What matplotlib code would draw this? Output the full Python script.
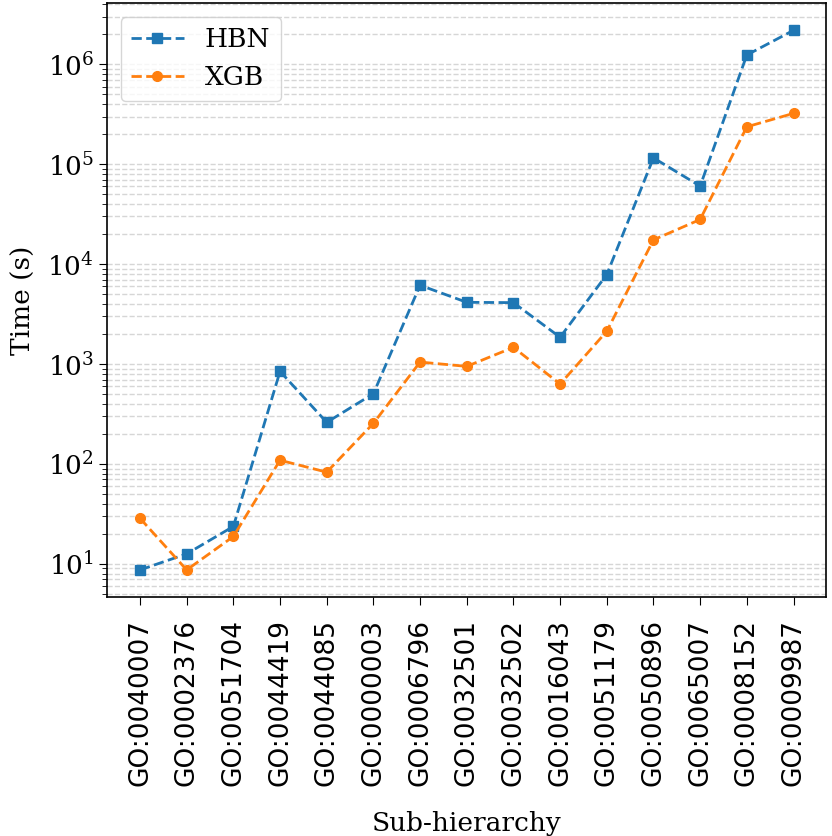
import matplotlib
matplotlib.use('Agg')
import matplotlib.pyplot as plt

# sub-hierarchies (x axis)
sub_hierarchies = ['GO:0040007', 'GO:0002376', 'GO:0051704', 'GO:0044419',
                   'GO:0044085', 'GO:0000003', 'GO:0006796', 'GO:0032501',
                   'GO:0032502', 'GO:0016043', 'GO:0051179', 'GO:0050896',
                   'GO:0065007', 'GO:0008152', 'GO:0009987']

# training time in seconds
hbn_time = [8.7, 12.6, 23.7, 845, 261, 505, 6150, 4150, 4120, 1855,
            7870, 115800, 60400, 1.24e6, 2.19e6]
xgb_time = [28.6, 8.7, 18.8, 109, 82.8, 255, 1047, 948, 1470, 631,
            2130, 17500, 28000, 237000, 323000]

plt.rcParams['font.family'] = 'serif'
plt.rcParams['font.serif'] = ['DejaVu Serif']

fig, ax = plt.subplots(figsize=(8.32, 8.36), dpi=100)
fig.subplots_adjust(left=0.129, right=0.993, top=0.996, bottom=0.286)

x = list(range(len(sub_hierarchies)))
ax.plot(x, hbn_time, linestyle='--', marker='s', markersize=7, linewidth=2,
        color='#1f77b4', label='HBN')
ax.plot(x, xgb_time, linestyle='--', marker='o', markersize=7, linewidth=2,
        color='#ff7f0e', label='XGB')

ax.set_yscale('log')
ax.grid(axis='y', which='both', linestyle='--', color='#d6d6d6', linewidth=1)
ax.set_axisbelow(True)

ax.set_xticks(x)
ax.set_xticklabels(sub_hierarchies, rotation=90, fontsize=19, family='DejaVu Sans')
ax.tick_params(axis='x', length=6, pad=10)
ax.tick_params(axis='y', which='major', labelsize=19, length=6)
ax.tick_params(axis='y', which='minor', length=3.5)

ax.set_xlabel('Sub-hierarchy', fontsize=19, labelpad=18)
ax.set_ylabel('Time (s)', fontsize=19, labelpad=8)
ax.legend(loc='upper left', fontsize=19)

for s in ax.spines.values():
    s.set_linewidth(1.2)

fig.savefig('out.png', dpi=100)
